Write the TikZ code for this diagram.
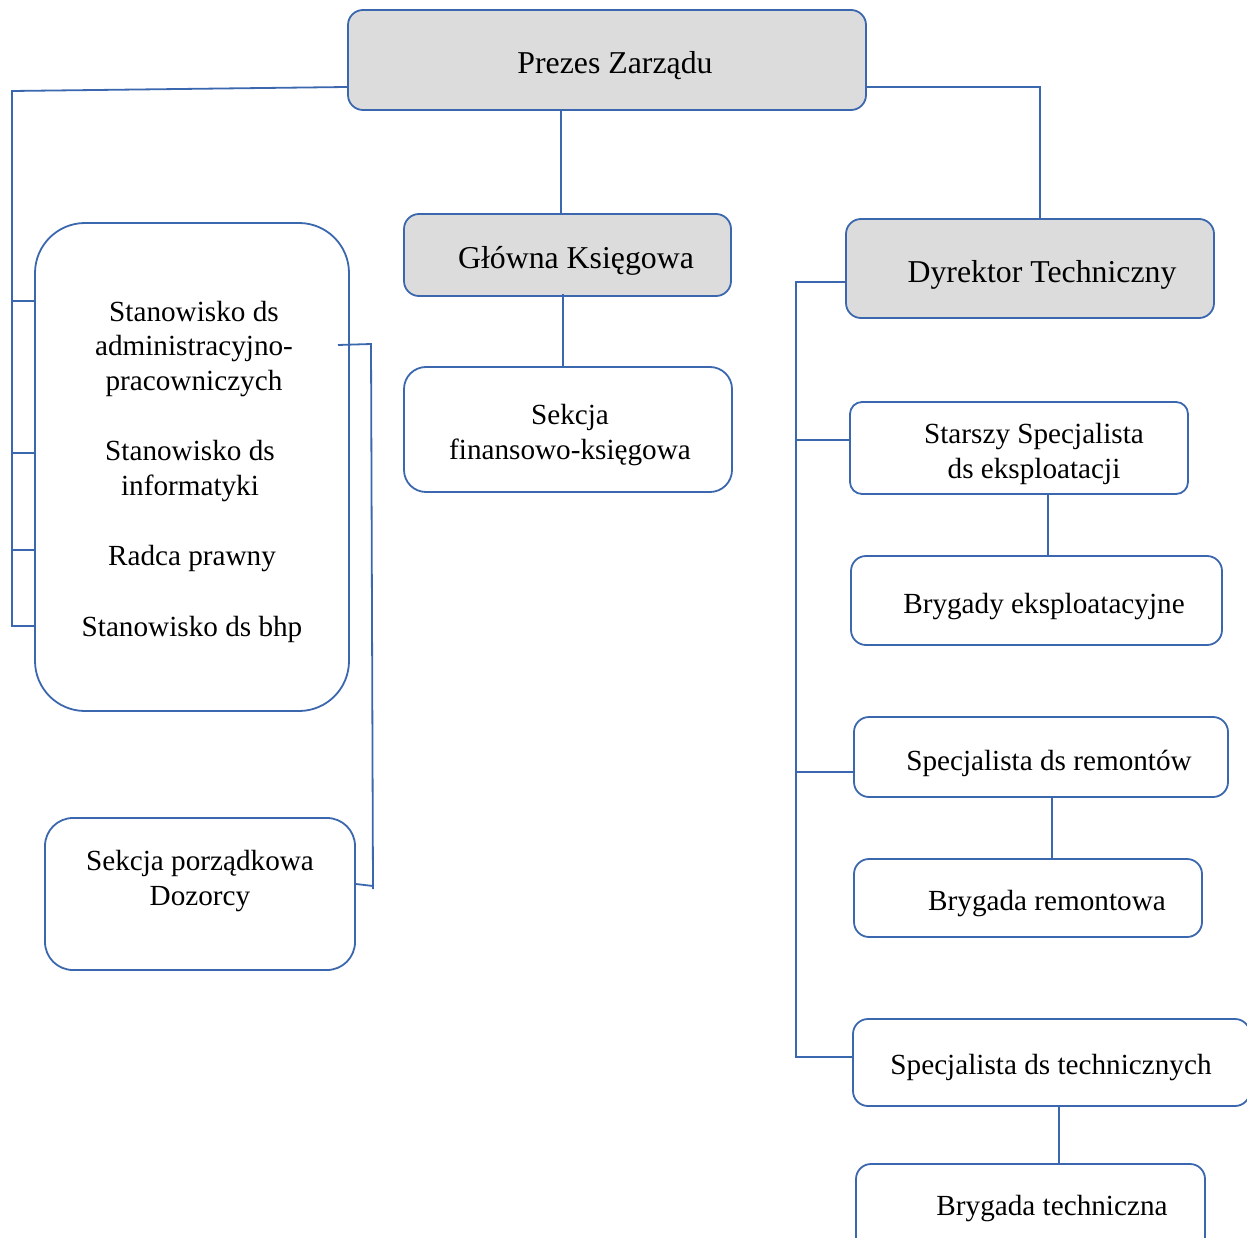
\documentclass[tikz,border=0pt]{standalone}
\usepackage{fontspec}
\setmainfont{Liberation Serif}
\definecolor{orgblue}{RGB}{59,103,174}
\definecolor{orggrey}{RGB}{220,220,220}
\tikzset{
  orgline/.style={draw=orgblue, line width=1.8pt},
  orgbox/.style={draw=orgblue, line width=1.8pt, fill=white, inner sep=0pt, rounded corners=#1},
  orgbox/.default=15pt,
  greybox/.style={orgbox, fill=orggrey},
  bigtxt/.style={font=\fontsize{31.8}{36}\selectfont, yshift=-4pt},
  smalltxt/.style={font=\fontsize{29.2}{34.5}\selectfont, align=center, yshift=-4pt},
}

\begin{document}
\begin{tikzpicture}[x=1pt,y=-1pt]
			%%%%% START %%%%%
			\useasboundingbox (0,0) rectangle (1247,1238);
			\clip (0,0) rectangle (1247,1238);
			
			% top row
			\node[greybox, minimum width=518pt, minimum height=100pt] (prezes) at (607,60) {};
			\node[bigtxt] (prezes-t) at (615,62) {Prezes Zarządu};
			\node[greybox=12pt, minimum width=327pt, minimum height=82pt] (glowna) at (567.5,255) {};
			\node[bigtxt] (glowna-t) at (576,257) {Główna Księgowa};
			\node[greybox, minimum width=368pt, minimum height=99pt] (dyrektor) at (1030,268.5) {};
			\node[bigtxt] (dyrektor-t) at (1042,271) {Dyrektor Techniczny};
			
			% left side
			\node[orgbox=50pt, minimum width=314pt, minimum height=488pt] (admin) at (192,467) {};
			\node[smalltxt] (adm-t1) at (194,345) {Stanowisko ds\\administracyjno-\\pracowniczych};
			\node[smalltxt] (adm-t2) at (190,467) {Stanowisko ds\\informatyki};
			\node[smalltxt] (adm-t3) at (192,555) {Radca prawny};
			\node[smalltxt] (adm-t4) at (192,625) {Stanowisko ds bhp};
			\node[orgbox=28pt, minimum width=310pt, minimum height=152pt] (porz) at (200,894) {};
			\node[smalltxt] (porz-t) at (200,877) {Sekcja porządkowa\\Dozorcy};
			
			% middle
			\node[orgbox=22pt, minimum width=328pt, minimum height=125pt] (finans) at (568,429.5) {};
			\node[smalltxt] (finans-t) at (570,431) {Sekcja\\finansowo-księgowa};
			
			% right side
			\node[orgbox=12pt, minimum width=338pt, minimum height=92pt] (starszy) at (1019,448) {};
			\node[smalltxt] (starszy-t) at (1034,450) {Starszy Specjalista\\ds eksploatacji};
			\node[orgbox, minimum width=371pt, minimum height=89pt] (brygeksp) at (1036.5,600.5) {};
			\node[smalltxt] (brygeksp-t) at (1044,603) {Brygady eksploatacyjne};
			\node[orgbox, minimum width=374pt, minimum height=80pt] (specrem) at (1041,757) {};
			\node[smalltxt] (specrem-t) at (1049,759) {Specjalista ds remontów};
			\node[orgbox, minimum width=348pt, minimum height=78pt] (brygrem) at (1028,898) {};
			\node[smalltxt] (brygrem-t) at (1047,900) {Brygada remontowa};
			\node[orgbox, minimum width=397pt, minimum height=87pt] (spectech) at (1051.5,1062.5) {};
			\node[smalltxt] (spectech-t) at (1051,1064) {Specjalista ds technicznych};
			\node[orgbox, minimum width=349pt, minimum height=126pt] (brygtech) at (1030.5,1227) {};
			\node[smalltxt] (brygtech-t) at (1052,1205) {Brygada techniczna};
			
			% connectors
			\draw[orgline] ([xshift=-46pt]prezes.south) -- ([xshift=-6.5pt]glowna.north);
			\draw[orgline] ([xshift=-4.5pt,yshift=3pt]glowna.south) -- ([xshift=-5pt]finans.north);
			\draw[orgline] ([yshift=-27pt]prezes.east) -| ([xshift=10pt]dyrektor.north);
			
			\coordinate (lbus) at (12,91);
			\coordinate (lbusend) at (12,626);
			\draw[orgline] ([yshift=-27pt]prezes.west) -- (lbus) -- (lbusend) -- (lbusend -| admin.west);
			\foreach \y in {301,453,550}
				\draw[orgline] (12,\y) coordinate (stub) -- (stub -| admin.west);
			
			\coordinate (brtop) at (338,345);
			\draw[orgline] (brtop) -- (371,344) -- (373,889);
			\draw[orgline] ([yshift=10pt]porz.east) -- (373,886);
			
			\draw[orgline] ([yshift=-13.5pt]dyrektor.west) -| ([xshift=-56pt,yshift=5.5pt]spectech.west) -- ([yshift=5.5pt]spectech.west);
			\draw[orgline] ([yshift=8pt]starszy.west) -- ++(-53,0);
			\draw[orgline] ([yshift=-15pt]specrem.west) -- ++(-57,0);
			\foreach \a/\b/\s in {starszy/brygeksp/29, specrem/brygrem/11, spectech/brygtech/7.5}
				\draw[orgline] ([xshift=\s pt]\a.south) coordinate (top) -- (top |- \b.north);
			
			%%%%% END %%%%%
\end{tikzpicture}
\end{document}
